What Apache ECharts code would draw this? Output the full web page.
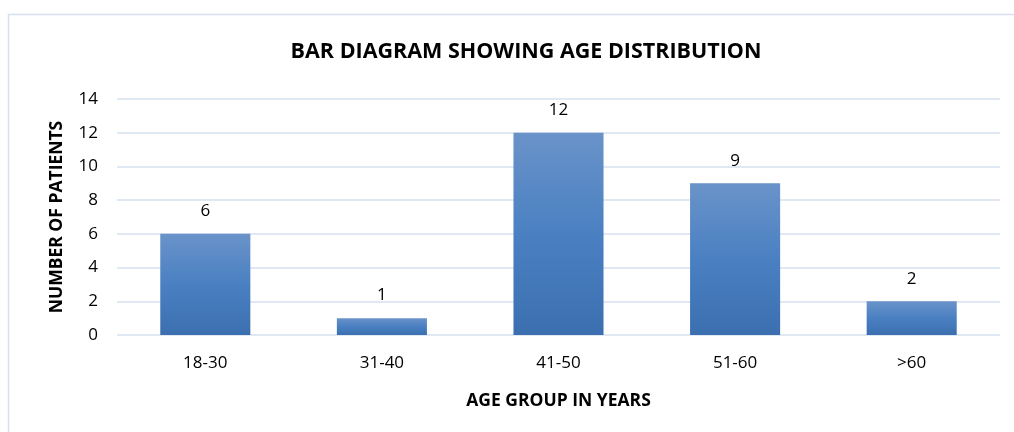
<!DOCTYPE html>
<html>
<head>
<meta charset="utf-8">
<script src="https://cdn.jsdelivr.net/npm/echarts@6/dist/echarts.min.js"></script>
<style>
    html, body { margin: 0; padding: 0; background: #fff; }
    #main { width: 1014px; height: 432px; }
</style>
</head>
<body>
<div id="main"></div>
<script>
// 数据
const ageGroups = ['18-30', '31-40', '41-50', '51-60', '>60'];
const patientCounts = [6, 1, 12, 9, 2];
const yTicks = [0, 2, 4, 6, 8, 10, 12, 14];

const fontFamily = '"Open Sans", "Noto Sans", sans-serif';

let myChart = echarts.init(document.getElementById('main'));
let option = {
    backgroundColor: '#fff',
    animation: false,
    title: {
        text: 'BAR DIAGRAM SHOWING AGE DISTRIBUTION',
        left: 521,
        top: 36,
        textAlign: 'center',
        textStyle: { fontFamily: fontFamily, fontSize: 21.5, fontWeight: 'bold', color: '#000' }
    },
    graphic: [{
        type: 'rect',
        shape: { x: 8.5, y: 14.5, width: 1020, height: 430 },
        style: { fill: 'none', stroke: '#d5e0ef', lineWidth: 1.5 },
        silent: true
    }],
    grid: { left: 117, right: 14, top: 99, bottom: 97 },
    xAxis: {
        type: 'category',
        data: ageGroups,
        axisLine: { show: false },
        axisTick: { show: false },
        axisLabel: { fontFamily: fontFamily, fontSize: 17, color: '#000', margin: 20 },
        name: 'AGE GROUP IN YEARS',
        nameLocation: 'middle',
        nameGap: 57,
        nameTextStyle: { fontFamily: fontFamily, fontSize: 17.5, fontWeight: 'bold', color: '#000' }
    },
    yAxis: {
        type: 'value',
        min: yTicks[0],
        max: yTicks[yTicks.length - 1],
        interval: 2,
        axisLine: { show: false },
        axisTick: { show: false },
        splitLine: { lineStyle: { color: '#d6e0ef', width: 1.5 } },
        axisLabel: { fontFamily: fontFamily, fontSize: 17, color: '#000', margin: 19 },
        name: 'NUMBER OF PATIENTS',
        nameLocation: 'middle',
        nameGap: 51,
        nameTextStyle: { fontFamily: fontFamily, fontSize: 17.5, fontWeight: 'bold', color: '#000' }
    },
    series: [{
        type: 'bar',
        data: patientCounts,
        barWidth: '51%',
        itemStyle: {
            color: new echarts.graphic.LinearGradient(0, 0, 0, 1, [
                { offset: 0, color: '#6a93c9' },
                { offset: 0.5, color: '#4a80c2' },
                { offset: 1, color: '#3b6fb0' }
            ])
        },
        label: {
            show: true,
            position: 'top',
            distance: 14,
            fontFamily: fontFamily,
            fontSize: 17,
            color: '#000'
        }
    }]
};
myChart.setOption(option);
</script>
</body>
</html>
